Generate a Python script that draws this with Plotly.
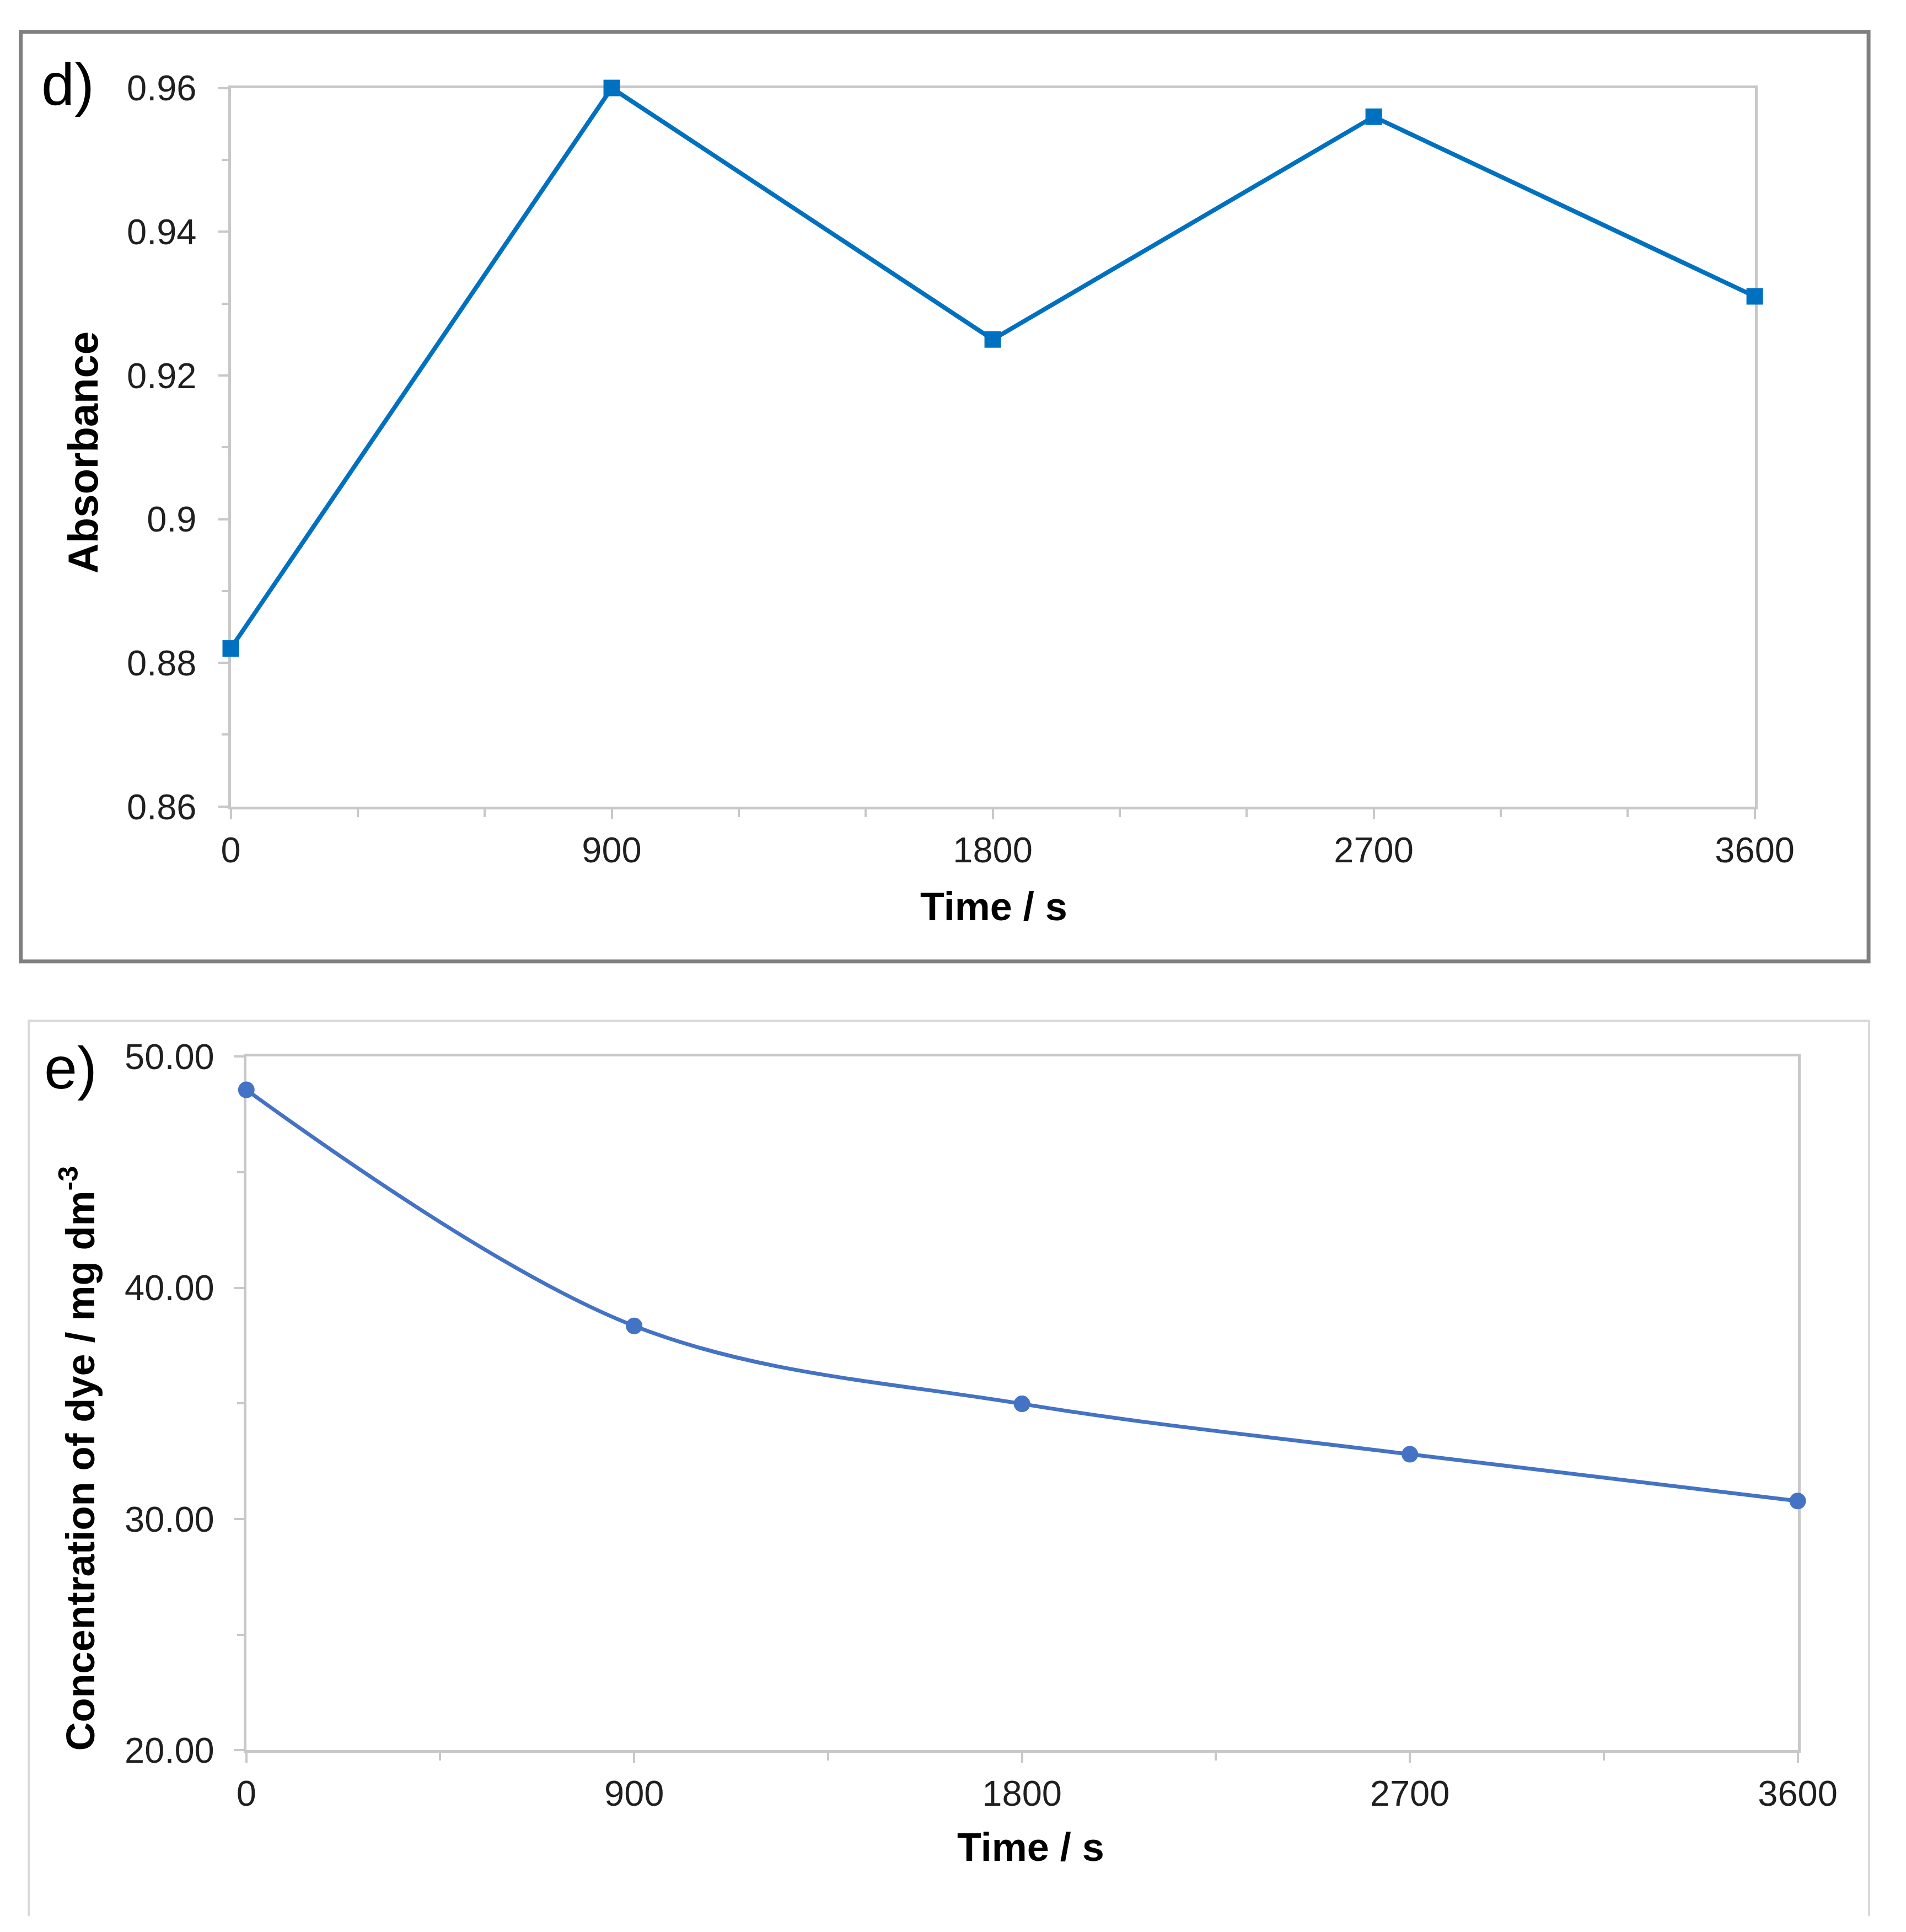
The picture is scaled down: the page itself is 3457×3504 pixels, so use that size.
import plotly.graph_objects as go

W, H = 3457, 3504

# ---- data ----
time_s = [0, 900, 1800, 2700, 3600]
absorbance = [0.882, 0.960, 0.925, 0.956, 0.931]
concentration = [48.56, 38.35, 34.98, 32.80, 30.78]

x_ticks = [0, 900, 1800, 2700, 3600]
abs_ticks = [0.86, 0.88, 0.90, 0.92, 0.94, 0.96]
abs_ticklabels = ["0.86", "0.88", "0.9", "0.92", "0.94", "0.96"]
conc_ticks = [20, 30, 40, 50]
conc_ticklabels = ["20.00", "30.00", "40.00", "50.00"]


def px(x):
    return x / W


def py(y):
    return 1 - y / H


FONT = "Liberation Sans, Arial, sans-serif"
AXC = "#c8c8c8"

fig = go.Figure()

fig.add_trace(go.Scatter(
    x=time_s, y=absorbance, mode="lines+markers",
    line=dict(color="#0070C0", width=8),
    marker=dict(symbol="square", size=30, color="#0070C0"),
    cliponaxis=False, xaxis="x", yaxis="y", showlegend=False))

fig.add_trace(go.Scatter(
    x=time_s, y=concentration, mode="lines+markers",
    line=dict(color="#4472C4", width=7, shape="spline", smoothing=1.0),
    marker=dict(symbol="circle", size=30, color="#4472C4"),
    cliponaxis=False, xaxis="x2", yaxis="y2", showlegend=False))

tickfont = dict(family=FONT, size=65, color="#1f1f1f")
common_axis = dict(showgrid=False, zeroline=False, showline=True, linecolor=AXC,
                   linewidth=5, mirror=True, ticks="outside", tickcolor=AXC,
                   tickwidth=4, ticklen=18, tickfont=tickfont, layer="below traces")

fig.update_layout(
    width=W, height=H,
    margin=dict(l=0, r=0, t=0, b=0),
    paper_bgcolor="white", plot_bgcolor="white",
    xaxis=dict(domain=[px(403), px(3241)], anchor="y", range=[0, 3600],
               tickvals=x_ticks, ticktext=[str(v) for v in x_ticks],
               minor=dict(ticks="outside", dtick=300, ticklen=14, tickcolor=AXC, tickwidth=4),
               **common_axis),
    yaxis=dict(domain=[py(1449), py(118)], anchor="x", range=[0.86, 0.96],
               tickvals=abs_ticks, ticktext=abs_ticklabels, ticklabelstandoff=26,
               minor=dict(ticks="outside", dtick=0.01, ticklen=12, tickcolor=AXC, tickwidth=4),
               **common_axis),
    xaxis2=dict(domain=[px(432), px(3321)], anchor="y2", range=[0, 3600],
                tickvals=x_ticks, ticktext=[str(v) for v in x_ticks],
                minor=dict(ticks="outside", dtick=450, ticklen=14, tickcolor=AXC, tickwidth=4),
                **common_axis),
    yaxis2=dict(domain=[py(3197), py(1912)], anchor="x2", range=[20, 50],
                tickvals=conc_ticks, ticktext=conc_ticklabels, ticklabelstandoff=22,
                minor=dict(ticks="outside", dtick=5, ticklen=12, tickcolor=AXC, tickwidth=4),
                **common_axis),
)

# panel frames
fig.add_shape(type="rect", xref="paper", yref="paper",
              x0=px(12), x1=px(3453), y0=py(1736), y1=py(14),
              line=dict(color="#7f7f7f", width=7), fillcolor="rgba(0,0,0,0)", layer="below")
fig.add_shape(type="path", xref="paper", yref="paper",
              path=f"M {px(27)} {py(3504)} L {px(27)} {py(1846)} L {px(3454)} {py(1846)} L {px(3454)} {py(3504)}",
              line=dict(color="#d9d9d9", width=4), layer="below")

titlefont = dict(family=FONT, size=72, color="black")
labelfont = dict(family=FONT, size=108, color="black")

annotations = [
    dict(text="d)", x=px(100), y=py(111), font=labelfont),
    dict(text="e)", x=px(105), y=py(1933), font=labelfont),
    dict(text="<b>Time / s</b>", x=px(1824), y=py(1634), font=titlefont),
    dict(text="<b>Time / s</b>", x=px(1893), y=py(3376), font=titlefont),
    dict(text="<b>Absorbance</b>", x=px(128), y=py(793), font=dict(family=FONT, size=76, color="black"),
         textangle=-90),
    dict(text="<b>Concentration of dye / mg dm<sup>-3</sup></b>", x=px(118), y=py(2656),
         font=titlefont, textangle=-90),
]
for a in annotations:
    a.update(xref="paper", yref="paper", showarrow=False, xanchor="center", yanchor="middle")
    fig.add_annotation(**a)

fig.write_html("out.html")
